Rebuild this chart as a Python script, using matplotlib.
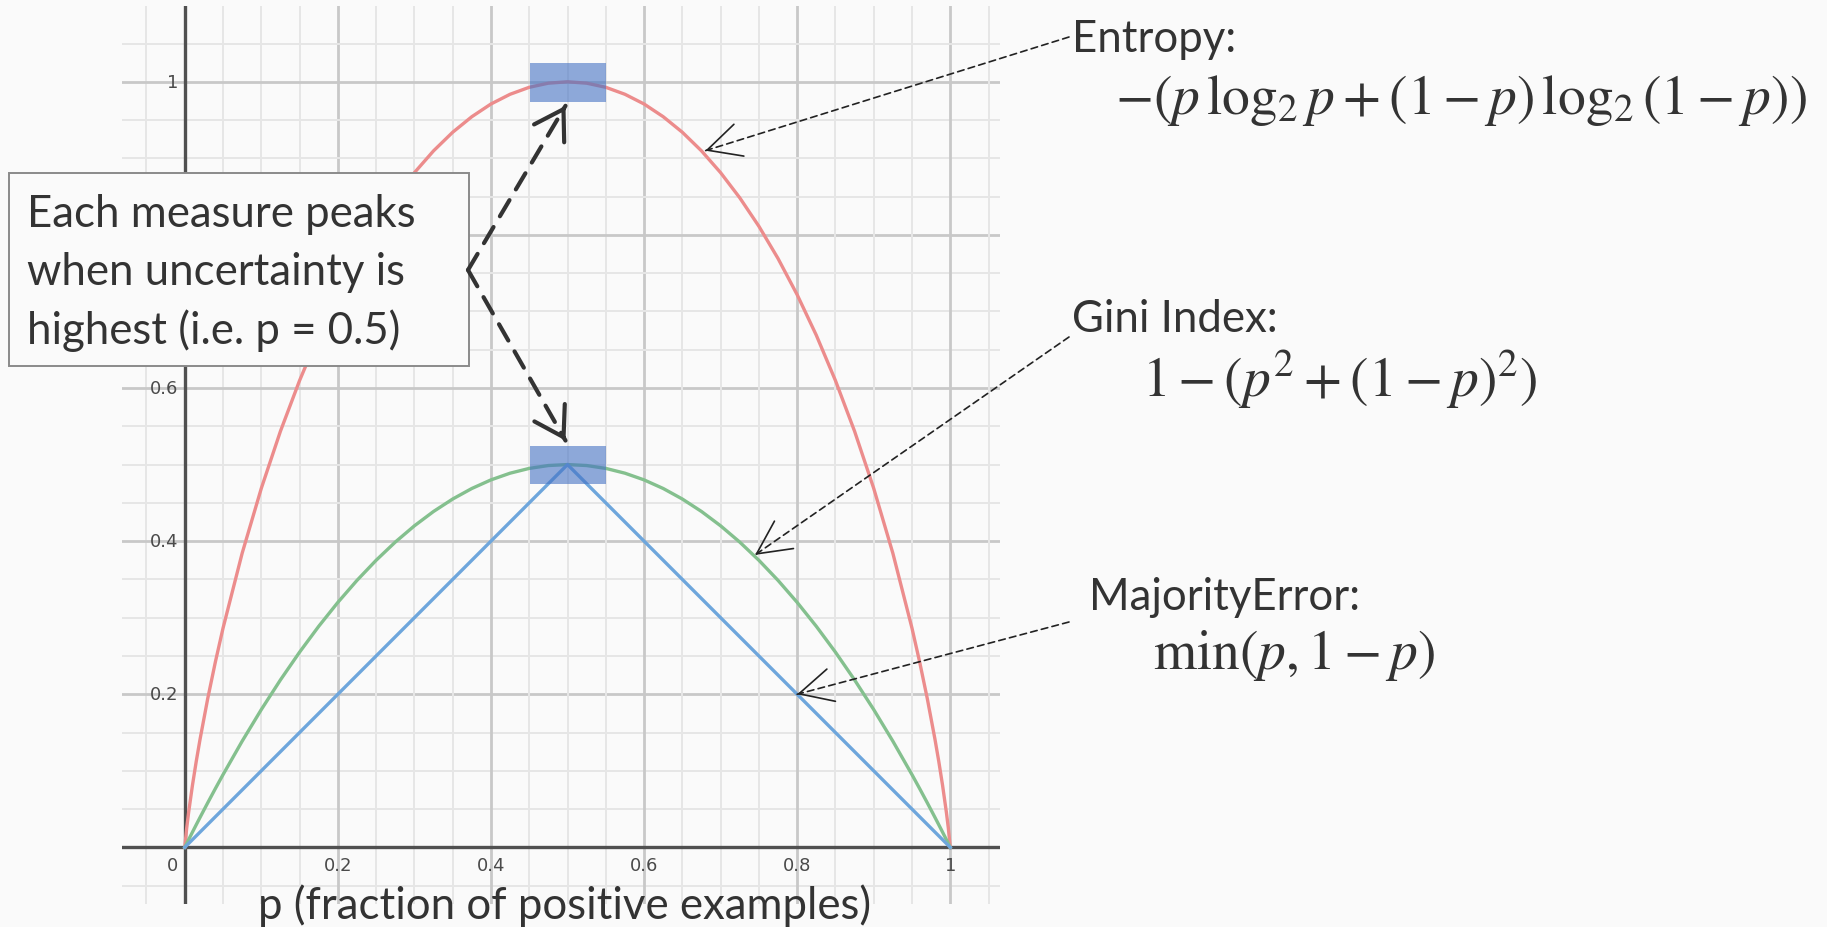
import numpy as np
import matplotlib.pyplot as plt
from matplotlib.patches import Rectangle

plt.rcParams['mathtext.fontset'] = 'stix'

# values
p = [0, 0.0025, 0.005, 0.01, 0.015, 0.02, 0.03, 0.04, 0.05, 0.075, 0.1, 0.125, 0.15, 0.175,
     0.2, 0.225, 0.25, 0.275, 0.3, 0.325, 0.35, 0.375, 0.4, 0.425, 0.45, 0.475, 0.5,
     0.525, 0.55, 0.575, 0.6, 0.625, 0.65, 0.675, 0.7, 0.725, 0.75, 0.775, 0.8, 0.825,
     0.85, 0.875, 0.9, 0.925, 0.95, 0.96, 0.97, 0.98, 0.985, 0.99, 0.995, 0.9975, 1.0]
entropy = [0, 0.0252, 0.0454, 0.0808, 0.1124, 0.1414, 0.1944, 0.2423, 0.2864, 0.3843, 0.4690,
           0.5436, 0.6098, 0.6690, 0.7219, 0.7692, 0.8113, 0.8485, 0.8813, 0.9098, 0.9341,
           0.9544, 0.9710, 0.9837, 0.9928, 0.9982, 1.0,
           0.9982, 0.9928, 0.9837, 0.9710, 0.9544, 0.9341, 0.9098, 0.8813, 0.8485, 0.8113,
           0.7692, 0.7219, 0.6690, 0.6098, 0.5436, 0.4690, 0.3843, 0.2864, 0.2423, 0.1944,
           0.1414, 0.1124, 0.0808, 0.0454, 0.0252, 0]
gini = [0, 0.00499, 0.00995, 0.0198, 0.02955, 0.0392, 0.0582, 0.0768, 0.095, 0.13875, 0.18,
        0.21875, 0.255, 0.28875, 0.32, 0.34875, 0.375, 0.39875, 0.42, 0.43875, 0.455,
        0.46875, 0.48, 0.48875, 0.495, 0.49875, 0.5,
        0.49875, 0.495, 0.48875, 0.48, 0.46875, 0.455, 0.43875, 0.42, 0.39875, 0.375,
        0.34875, 0.32, 0.28875, 0.255, 0.21875, 0.18, 0.13875, 0.095, 0.0768, 0.0582,
        0.0392, 0.02955, 0.0198, 0.00995, 0.00499, 0]
majority = [0, 0.0025, 0.005, 0.01, 0.015, 0.02, 0.03, 0.04, 0.05, 0.075, 0.1, 0.125, 0.15,
            0.175, 0.2, 0.225, 0.25, 0.275, 0.3, 0.325, 0.35, 0.375, 0.4, 0.425, 0.45, 0.475, 0.5,
            0.475, 0.45, 0.425, 0.4, 0.375, 0.35, 0.325, 0.3, 0.275, 0.25, 0.225, 0.2, 0.175,
            0.15, 0.125, 0.1, 0.075, 0.05, 0.04, 0.03, 0.02, 0.015, 0.01, 0.005, 0.0025, 0]

xticks = [0, 0.2, 0.4, 0.6, 0.8, 1]
xtick_labels = ['0', '0.2', '0.4', '0.6', '0.8', '1']
yticks = [0.2, 0.4, 0.6, 1]
ytick_labels = ['0.2', '0.4', '0.6', '1']
peak_x = 0.5
peaks = [1.0, 0.5]

bg = '#fafafa'
txt = '#333333'
W, H = 1827, 928
fig = plt.figure(figsize=(W / 100, H / 100), dpi=100, facecolor=bg)
ax = fig.add_axes([122 / W, 23 / H, 878 / W, 898 / H])
ax.set_facecolor(bg)
ax.set_xlim(-0.082, 1.065)
ax.set_ylim(-0.074, 1.099)
for s in ax.spines.values():
    s.set_visible(False)
ax.set_xticks([])
ax.set_yticks([])

# grid
for v in np.arange(-0.05, 1.1, 0.05):
    major = abs(v / 0.2 - round(v / 0.2)) < 1e-6
    c = '#c8c8c8' if major else '#e6e6e6'
    w = 2.0 if major else 1.4
    ax.axvline(v, color=c, lw=w, zorder=1)
    ax.axhline(v, color=c, lw=w, zorder=1)
ax.axhline(0, color='#505050', lw=2.4, zorder=2)
ax.axvline(0, color='#505050', lw=2.4, zorder=2)

ax.plot(p, entropy, color='#ec8c8c', lw=2.4, zorder=3)
ax.plot(p, gini, color='#84c08e', lw=2.4, zorder=3)
ax.plot(p, majority, color='#6ea6dc', lw=2.4, zorder=4)

for t, lab in zip(xticks, xtick_labels):
    ax.text(t - (0.016 if t == 0 else 0), -0.023, lab, ha='center', va='center',
            fontsize=13, color='#4a4a4a', zorder=5)
for t, lab in zip(yticks, ytick_labels):
    ax.text(-0.009, t, lab, ha='right', va='center', fontsize=13, color='#4a4a4a', zorder=5)

# highlight boxes at peaks
for y in peaks:
    ax.add_patch(Rectangle((peak_x - 0.049, y - 0.026), 0.099, 0.05,
                           facecolor='#4472c4', alpha=0.6, lw=0, zorder=6))

# overlay in pixel coords for annotations
ov = fig.add_axes([0, 0, 1, 1], facecolor='none')
ov.set_xlim(0, W)
ov.set_ylim(H, 0)
ov.axis('off')


def to_px(pt):
    return ov.transData.inverted().transform(ax.transData.transform(pt))


def arrow(tail, tip, lw, dash, ms, hl, hw, color):
    dx, dy = tip[0] - tail[0], tip[1] - tail[1]
    L = np.hypot(dx, dy)
    ov.annotate('', xy=tip, xytext=tail,
                arrowprops=dict(arrowstyle='-', lw=lw, ls=(0, dash), color=color,
                                shrinkA=0, shrinkB=0), zorder=7)
    ov.annotate('', xy=tip, xytext=(tip[0] - dx / L * 4, tip[1] - dy / L * 4),
                arrowprops=dict(arrowstyle='->,head_length=%g,head_width=%g' % (hl, hw), lw=lw,
                                color=color, mutation_scale=ms, shrinkA=0, shrinkB=0), zorder=7)


ov.add_patch(Rectangle((9, 174), 460, 193, facecolor=bg, edgecolor='#8a8a8a', lw=1.4, zorder=5))
box_lines = ['Each measure peaks', 'when uncertainty is', 'highest (i.e. p = 0.5)']
for i, line in enumerate(box_lines):
    ov.text(27, 227 + i * 58.5, line, fontsize=31.5, family='Lato', color=txt,
            va='baseline', ha='left', zorder=6)

# thick dashed arrows to the peaks
start = (468, 271)
for y in peaks:
    tx, ty = to_px((peak_x, y))
    ty = ty + 24 if y == 1.0 else ty - 24
    arrow(start, (tx - 2, ty), 3, (4.5, 3), 45, 0.45, 0.28, txt)

# formulas and labels
labels = [
    ('Entropy:', 1072, 40, r'$-(p\,\log_2 p + (1-p)\,\log_2(1-p))$', 1115, 101, (0.68, 0.91), (1069, 38)),
    ('Gini Index:', 1072, 320, r'$1-(p^2 + (1-p)^2)$', 1142, 379, (0.745, 0.382), (1069, 338)),
    ('MajorityError:', 1089, 598, r'$\min(p, 1-p)$', 1153, 656, (0.8, 0.2), (1069, 623)),
]
for name, nx, ny, form, fx, fy, pt, tail in labels:
    ov.text(nx, ny, name, fontsize=31.5, family='Lato', color=txt, va='center', ha='left')
    ov.text(fx, fy, form, fontsize=40, color=txt, va='center', ha='left')
    arrow(tail, tuple(to_px(pt)), 1.2, (4, 2.6), 60, 0.4, 0.2, '#222222')

ov.text(565, 906, 'p (fraction of positive examples)', fontsize=31.5, family='Lato',
        color=txt, ha='center', va='center')

fig.savefig('out.png', dpi=100, facecolor=bg)
